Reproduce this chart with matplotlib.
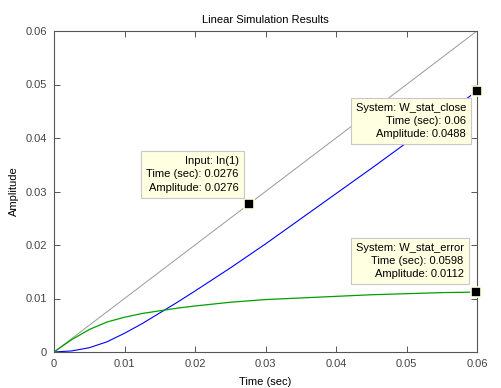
import matplotlib.pyplot as plt

plt.rcParams['font.family'] = ['Liberation Sans', 'DejaVu Sans']

# time points and responses
t = [0, 0.0025, 0.005, 0.0075, 0.01, 0.0125, 0.015, 0.0175, 0.02, 0.025,
     0.03, 0.035, 0.04, 0.045, 0.05, 0.055, 0.06]
y_close = [0, 0.0002, 0.0008, 0.0019, 0.0035, 0.0053, 0.0073, 0.0093, 0.0114,
           0.0157, 0.0202, 0.0249, 0.0296, 0.0343, 0.0391, 0.0439, 0.0488]
y_error = [0, 0.0023, 0.0042, 0.0056, 0.0065, 0.0072, 0.0077, 0.0082, 0.0086,
           0.0093, 0.0098, 0.0101, 0.0104, 0.0107, 0.0109, 0.0111, 0.0112]
t_in = [0, 0.06]
y_in = [0, 0.06]

# data tips: (x, y, text, offset in pixels)
tips = [
    (0.0276, 0.0276, "Input: In(1)\nTime (sec): 0.0276\nAmplitude: 0.0276", (-10, 30)),
    (0.06, 0.0488, "System: W_stat_close\nTime (sec): 0.06\nAmplitude: 0.0488", (-11, -30)),
    (0.0598, 0.0112, "System: W_stat_error\nTime (sec): 0.0598\nAmplitude: 0.0112", (-12, 31)),
]

fig = plt.figure(figsize=(5.02, 3.88), dpi=100)
ax = fig.add_axes([54/502, 1-352/388, 423/502, 321/388])

ax.plot(t_in, y_in, color='#999999', lw=0.7)
ax.plot(t, y_close, color='#0000ff', lw=0.8)
ax.plot(t, y_error, color='#00a000', lw=0.9)

for x, y, txt, off in tips:
    ax.plot(x, y, 's', ms=6.5, mfc='black', mec='#ffffe1', mew=1.2, clip_on=False, zorder=5)
    ax.annotate(txt, xy=(x, y), xytext=off, textcoords='offset pixels',
                ha='right', va='center', fontsize=8, linespacing=1.4,
                bbox=dict(boxstyle='square,pad=0.45', fc='#ffffe1', ec='#c8c8c8', lw=0.8),
                zorder=6)

ax.set_xlim(0, 0.06)
ax.set_ylim(0, 0.06)
ticks = [0, 0.01, 0.02, 0.03, 0.04, 0.05, 0.06]
ax.set_xticks(ticks)
ax.set_yticks(ticks)
ax.set_xticklabels(['0', '0.01', '0.02', '0.03', '0.04', '0.05', '0.06'])
ax.set_yticklabels(['0', '0.01', '0.02', '0.03', '0.04', '0.05', '0.06'])
ax.tick_params(direction='in', length=4, width=0.7, color='#555555', labelcolor='#444444',
               labelsize=8, top=True, right=True, pad=5)
for s in ax.spines.values():
    s.set_color('#555555')
    s.set_linewidth(0.8)

ax.set_title('Linear Simulation Results', fontsize=8, pad=6)
ax.set_xlabel('Time (sec)', fontsize=8, labelpad=6)
ax.set_ylabel('Amplitude', fontsize=8, labelpad=5)

fig.savefig('out.png', dpi=100)
